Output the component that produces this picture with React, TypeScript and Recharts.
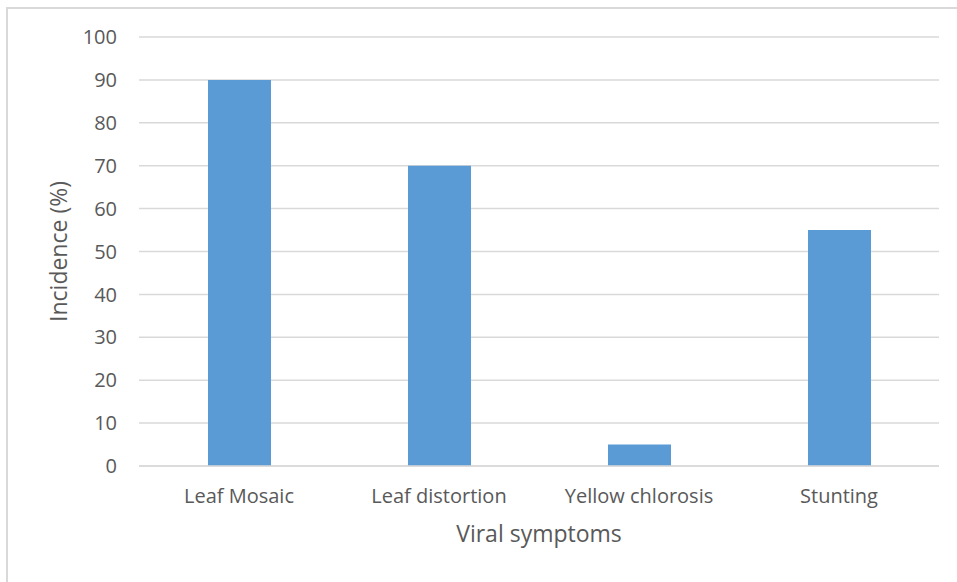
import React from "react";
import { BarChart, Bar, XAxis, YAxis, CartesianGrid, Label } from "recharts";

const categories = ["Leaf Mosaic", "Leaf distortion", "Yellow chlorosis", "Stunting"];
const incidence = [90, 70, 5, 55];
const yTicks = [0, 10, 20, 30, 40, 50, 60, 70, 80, 90, 100];

const data = categories.map((name, i) => ({ name, value: incidence[i] }));

const FONT = "'Open Sans', 'Liberation Sans', sans-serif";
const TEXT = "#595959";

export default function App() {
  return (
    <div style={{ position: "absolute", left: 0, top: 0, width: 957, height: 582, overflow: "hidden", background: "#fff" }}>
      <div
        style={{
          position: "absolute",
          left: 6,
          top: 7,
          width: 1000,
          height: 1000,
          border: "2px solid #d9d9d9",
          boxSizing: "border-box",
        }}
      />
      <div style={{ position: "absolute", left: 0, top: 0 }}>
        <BarChart width={957} height={582} data={data} margin={{ top: 37, right: 18, bottom: 0, left: 0 }}>
          <CartesianGrid vertical={false} stroke="#d9d9d9" strokeWidth={1.5} />
          <XAxis
            dataKey="name"
            height={116}
            axisLine={{ stroke: "#d9d9d9", strokeWidth: 1.5 }}
            tickLine={false}
            tickSize={0}
            tickMargin={23}
            tick={{ fill: TEXT, fontSize: 20, fontFamily: FONT }}
          >
            <Label value="Viral symptoms" position="insideTop" offset={60} fill={TEXT} fontSize={23} fontFamily={FONT} />
          </XAxis>
          <YAxis
            width={139}
            domain={[0, 100]}
            ticks={yTicks}
            interval={0}
            axisLine={false}
            tickLine={false}
            tickSize={0}
            tickMargin={22}
            tick={{ fill: TEXT, fontSize: 20, fontFamily: FONT }}
          >
            <Label value="Incidence (%)" angle={-90} position="insideLeft" offset={59} fill={TEXT} fontSize={23} fontFamily={FONT} style={{ textAnchor: "middle" }} />
          </YAxis>
          <Bar dataKey="value" fill="#5b9bd5" barSize={63} isAnimationActive={false} />
        </BarChart>
      </div>
    </div>
  );
}
